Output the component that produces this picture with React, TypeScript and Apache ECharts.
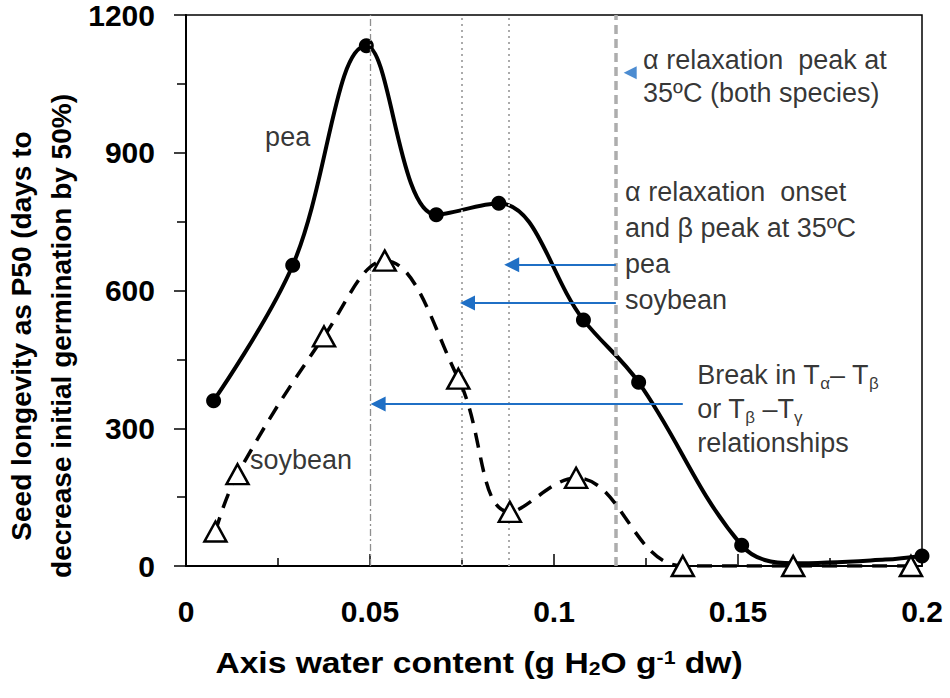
import React, { useEffect, useRef } from "react";
import * as echarts from "echarts";

const FONT = "'Liberation Sans', Arial, Helvetica, sans-serif";

// pea (filled circles, solid smoothed line)
const peaX = [0.0075, 0.029, 0.049, 0.068, 0.085, 0.108, 0.123, 0.151, 0.165, 0.19, 0.2];
const peaY = [360, 655, 1133, 765, 790, 536, 400, 45, 6, 14, 22];
const peaMarkerShown = [true, true, true, true, true, true, true, true, false, false, true];

// soybean (open triangles, dashed smoothed line)
const soyX = [0.008, 0.014, 0.0375, 0.054, 0.074, 0.088, 0.106, 0.135, 0.165, 0.197];
const soyY = [75, 200, 500, 665, 408, 118, 192, 0, 0, 0];

// axis ticks
const xTickLabels = ["0", "0.05", "0.1", "0.15", "0.2"];
const yTickLabels = [0, 300, 600, 900, 1200];

// vertical reference lines (water content)
const refLineX = [0.05, 0.075, 0.0878, 0.1168];

// blue arrows
const arrowStartX = [0.1168, 0.1168, 0.135];
const arrowEndX = [0.0885, 0.0765, 0.0522];
const arrowY = [656, 573, 353];
const topArrowHead = [0.1207, 1074];

// annotations
const noteX = [0.1242, 0.1193, 0.1389, 0.0215, 0.0174];
const noteY = [1065, 696, 342, 935, 231];
const noteText = [
  "\u03b1 relaxation  peak at\n35\u00baC (both species)",
  "\u03b1 relaxation  onset\nand \u03b2 peak at 35\u00baC\npea\nsoybean",
  "Break in T{sub|\u03b1}\u2013 T{sub|\u03b2}\nor T{sub|\u03b2} \u2013T{sub2|\u03b3}\nrelationships",
  "pea",
  "soybean",
];

export default function App() {
  const ref = useRef<HTMLDivElement>(null);
  useEffect(() => {
    if (!ref.current) return;
    const chart = echarts.init(ref.current, undefined, { renderer: "svg" });

    const refStyles = [
      { color: "#8f8f8f", width: 1.3, type: [7, 3, 2, 3] },
      { color: "#ababab", width: 2, type: [2, 4] },
      { color: "#ababab", width: 2, type: [2, 4] },
      { color: "#adadad", width: 3.5, type: [9, 5] },
    ];

    const noteRich = {
      sub: { fontSize: 17, fontFamily: FONT, color: "#000", verticalAlign: "bottom", lineHeight: 20 },
      sub2: { fontSize: 17, fontFamily: FONT, color: "#000", verticalAlign: "bottom", lineHeight: 16, padding: [6, 0, 0, 0] },
    };

    chart.setOption({
      animation: false,
      backgroundColor: "#fff",
      grid: {
        left: 186,
        top: 15,
        right: 28,
        bottom: 132,
        show: true,
        borderColor: "#000",
        borderWidth: 1.5,
        backgroundColor: "transparent",
      },
      xAxis: {
        type: "value",
        min: 0,
        max: 0.2,
        interval: 0.05,
        axisLine: { show: true, onZero: false, lineStyle: { color: "#000", width: 2 } },
        axisTick: { show: true, inside: true, length: 12, lineStyle: { color: "#000", width: 1.5 } },
        minorTick: { show: true, splitNumber: 2, length: 8, lineStyle: { color: "#000", width: 1.5 } },
        splitLine: { show: false },
        minorSplitLine: { show: false },
        axisLabel: {
          margin: 30,
          fontSize: 30,
          fontWeight: "bold",
          fontFamily: FONT,
          color: "#000",
          formatter: (v: number) => {
            const i = Math.round(v / 0.05);
            return xTickLabels[i] ?? "";
          },
        },
      },
      yAxis: {
        type: "value",
        min: 0,
        max: 1200,
        interval: 300,
        axisLine: { show: true, onZero: false, lineStyle: { color: "#000", width: 2 } },
        axisTick: { show: true, inside: false, length: 12, lineStyle: { color: "#000", width: 1.5 } },
        minorTick: { show: true, splitNumber: 2, length: 9, lineStyle: { color: "#000", width: 1.5 } },
        splitLine: { show: false },
        minorSplitLine: { show: false },
        axisLabel: {
          margin: 31,
          fontSize: 30,
          fontWeight: "bold",
          fontFamily: FONT,
          color: "#000",
          formatter: (v: number) => (yTickLabels.includes(v) ? String(v) : ""),
        },
      },
      graphic: [
        {
          type: "text",
          x: 479,
          y: 663,
          scaleX: 1.12,
          style: {
            text: "Axis water content (g H{sub|2}O g{sup|-1} dw)",
            fontSize: 30,
            fontWeight: "bold",
            fontFamily: FONT,
            fill: "#000",
            align: "center",
            verticalAlign: "middle",
            rich: {
              sub: { fontSize: 19, fontWeight: "bold", fontFamily: FONT, verticalAlign: "bottom", lineHeight: 24 },
              sup: { fontSize: 19, fontWeight: "bold", fontFamily: FONT, verticalAlign: "top", lineHeight: 24 },
            },
          },
        },
        {
          type: "text",
          x: 41,
          y: 336,
          rotation: Math.PI / 2,
          style: {
            text: "Seed longevity as P50 (days to\ndecrease initial germination by 50%)",
            fontSize: 28,
            fontWeight: "bold",
            fontFamily: FONT,
            fill: "#000",
            align: "center",
            verticalAlign: "middle",
            lineHeight: 40,
          },
        },
      ],
      series: [
        {
          name: "refLines",
          type: "line",
          data: [],
          z: 1,
          silent: true,
          markLine: {
            silent: true,
            animation: false,
            precision: 5,
            symbol: "none",
            label: { show: false },
            data: refLineX.map((x, i) => ({ xAxis: x, lineStyle: refStyles[i] })),
          },
        },
        {
          name: "arrows",
          type: "line",
          data: [],
          z: 2,
          silent: true,
          markLine: {
            silent: true,
            animation: false,
            precision: 5,
            symbol: ["none", "triangle"],
            symbolSize: 15,
            label: { show: false },
            itemStyle: { color: "#1f6fc5" },
            lineStyle: { color: "#1f6fc5", width: 1.8, type: "solid" },
            data: arrowY.map((y, i) => [
              { coord: [arrowStartX[i], y], symbol: "none" },
              { coord: [arrowEndX[i], y], symbol: "triangle", symbolSize: 15 },
            ]),
          },
        },
        {
          name: "arrowHead",
          type: "scatter",
          z: 2,
          silent: true,
          symbol: "triangle",
          symbolSize: [13, 13],
          symbolRotate: 90,
          itemStyle: { color: "#1f6fc5" },
          data: [topArrowHead],
        },
        {
          name: "pea",
          type: "line",
          z: 4,
          smooth: 0.38,
          symbol: "circle",
          symbolSize: 15,
          showAllSymbol: true,
          lineStyle: { color: "#000", width: 4 },
          itemStyle: { color: "#000" },
          data: peaX.map((x, i) => ({
            value: [x, peaY[i]],
            symbolSize: peaMarkerShown[i] ? 15 : 0,
          })),
        },
        {
          name: "soybean",
          type: "line",
          z: 5,
          smooth: 0.4,
          symbol: "triangle",
          symbolSize: [22, 20],
          showAllSymbol: true,
          lineStyle: { color: "#000", width: 3.5, type: [15, 10] },
          itemStyle: { color: "#fff", borderColor: "#000", borderWidth: 2.5 },
          data: soyX.map((x, i) => [x, soyY[i]]),
        },
        {
          name: "notes",
          type: "scatter",
          z: 6,
          silent: true,
          symbolSize: 0,
          data: noteX.map((x, i) => ({
            value: [x, noteY[i]],
            label: {
              show: true,
              position: "right",
              distance: 0,
              formatter: noteText[i],
              fontSize: 27,
              fontFamily: FONT,
              color: "#000",
              align: "left",
              lineHeight: i === 1 ? 36 : i === 0 ? 33 : 34,
              rich: noteRich,
            },
          })),
        },
      ],
    });
    return () => chart.dispose();
  }, []);
  return (
    <div
      ref={ref}
      style={{ position: "fixed", left: 0, top: 0, width: 950, height: 698, background: "#fff" }}
    />
  );
}
